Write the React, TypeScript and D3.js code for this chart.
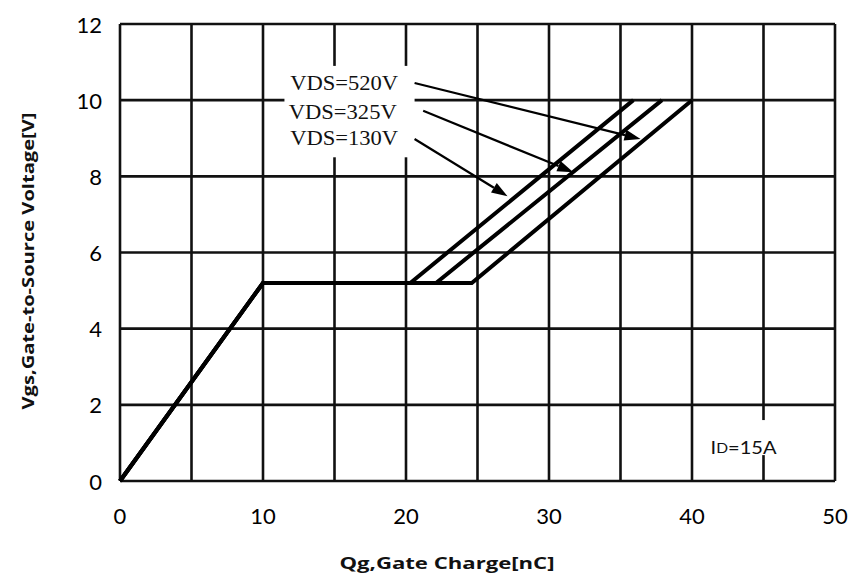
import React from "react";
import * as d3 from "d3";

// ---- data ----
const qTicks = [0, 10, 20, 30, 40, 50];
const vTicks = [0, 2, 4, 6, 8, 10, 12];
const qGrid = [0, 5, 10, 15, 20, 25, 30, 35, 40, 45, 50];
const vGrid = [0, 2, 4, 6, 8, 10, 12];

const qg130 = [0, 10, 20.3, 35.9];
const vgs130 = [0, 5.2, 5.2, 10];
const qg325 = [0, 10, 22.1, 37.9];
const vgs325 = [0, 5.2, 5.2, 10];
const qg520 = [0, 10, 24.6, 40.0];
const vgs520 = [0, 5.2, 5.2, 10];

const labelTexts = ["VDS=520V", "VDS=325V", "VDS=130V"];
const labelQ = [11.9, 11.8, 11.9];
const labelV = [10.45, 9.69, 9.0];
const arrowFromQ = [20.6, 21.2, 20.6];
const arrowFromV = [10.45, 9.72, 8.98];
const arrowToQ = [36.4, 31.7, 27.1];
const arrowToV = [8.98, 8.11, 7.48];
const labelBoxQ = [11.5, 20.6];
const labelBoxV = [8.5, 10.9];

const idText = "=15A";
const idQ = 41.3;
const idV = 0.89;
const idBoxQ = [41.1, 46.6];
const idBoxV = [0.68, 1.6];

const xTitle = "Qg,Gate Charge[nC]";
const yTitle = "Vgs,Gate-to-Source Voltage[V]";

const W = 866;
const H = 582;

export default function App() {
  const x = d3.scaleLinear().domain([0, 50]).range([120, 835]);
  const y = d3.scaleLinear().domain([0, 12]).range([481, 24]);

  const line = d3
    .line<[number, number]>()
    .x((d) => x(d[0]))
    .y((d) => y(d[1]));

  const series = [
    { q: qg130, v: vgs130 },
    { q: qg325, v: vgs325 },
    { q: qg520, v: vgs520 },
  ];

  const arrows = labelTexts.map((_, i) => {
    const x1 = x(arrowFromQ[i]);
    const y1 = y(arrowFromV[i]);
    const x2 = x(arrowToQ[i]);
    const y2 = y(arrowToV[i]);
    const ang = Math.atan2(y2 - y1, x2 - x1);
    const L = 16;
    const hw = 5.5;
    const bx = x2 - L * Math.cos(ang);
    const by = y2 - L * Math.sin(ang);
    const px = -Math.sin(ang) * hw;
    const py = Math.cos(ang) * hw;
    return {
      x1,
      y1,
      bx,
      by,
      head: `M${x2},${y2}L${bx + px},${by + py}L${bx - px},${by - py}Z`,
    };
  });

  const font = "Lato, 'Open Sans', sans-serif";

  return (
    <svg
      width={W}
      height={H}
      style={{ position: "absolute", left: 0, top: 0, background: "#fff" }}
    >
      <rect x={0} y={0} width={W} height={H} fill="#fff" />
      {/* grid */}
      <g stroke="#111" strokeWidth={2.6}>
        {qGrid.map((q) => (
          <line key={"vg" + q} x1={x(q)} x2={x(q)} y1={y(0)} y2={y(12)} />
        ))}
        {vGrid.map((v) => (
          <line key={"hg" + v} x1={x(0)} x2={x(50)} y1={y(v)} y2={y(v)} />
        ))}
      </g>
      {/* white boxes behind annotations */}
      <rect
        x={x(labelBoxQ[0])}
        y={y(labelBoxV[1])}
        width={x(labelBoxQ[1]) - x(labelBoxQ[0])}
        height={y(labelBoxV[0]) - y(labelBoxV[1])}
        fill="#fff"
      />
      <rect
        x={x(idBoxQ[0])}
        y={y(idBoxV[1])}
        width={x(idBoxQ[1]) - x(idBoxQ[0])}
        height={y(idBoxV[0]) - y(idBoxV[1])}
        fill="#fff"
      />
      {/* curves */}
      {series.map((s, i) => (
        <path
          key={"s" + i}
          d={line(s.q.map((q, j) => [q, s.v[j]] as [number, number])) || ""}
          fill="none"
          stroke="#000"
          strokeWidth={4}
          strokeLinejoin="miter"
        />
      ))}
      {/* annotations */}
      {labelTexts.map((t, i) => (
        <text
          key={"lt" + i}
          x={x(labelQ[i])}
          y={y(labelV[i])}
          dominantBaseline="central"
          fontFamily="'Liberation Serif', 'DejaVu Serif', serif"
          fontSize={21}
          textLength={108}
          lengthAdjust="spacingAndGlyphs"
          fill="#111"
        >
          {t}
        </text>
      ))}
      {arrows.map((a, i) => (
        <g key={"ar" + i}>
          <line x1={a.x1} y1={a.y1} x2={a.bx} y2={a.by} stroke="#000" strokeWidth={2.2} />
          <path d={a.head} fill="#000" />
        </g>
      ))}
      <text
        x={x(idQ)}
        y={y(idV)}
        dominantBaseline="central"
        fontFamily={font}
        fontSize={18}
        textLength={66}
        lengthAdjust="spacingAndGlyphs"
        fill="#111"
      >
        I<tspan fontSize={14}>D</tspan>
        {idText}
      </text>
      {/* ticks */}
      {vTicks.map((v) => (
        <text
          key={"yt" + v}
          x={102}
          y={y(v)}
          textAnchor="end"
          dominantBaseline="central"
          fontFamily={font}
          fontSize={22}
          fill="#000"
        >
          {v}
        </text>
      ))}
      {qTicks.map((q) => (
        <text
          key={"xt" + q}
          x={x(q)}
          y={515}
          textAnchor="middle"
          dominantBaseline="central"
          fontFamily={font}
          fontSize={22}
          fill="#000"
        >
          {q}
        </text>
      ))}
      {/* titles */}
      <text
        x={447}
        y={563}
        textAnchor="middle"
        dominantBaseline="central"
        fontFamily="'Open Sans', sans-serif"
        fontWeight={700}
        fontSize={16}
        textLength={215}
        lengthAdjust="spacingAndGlyphs"
        fill="#111"
      >
        {xTitle}
      </text>
      <text
        transform={`translate(27,261) rotate(-90)`}
        textAnchor="middle"
        dominantBaseline="central"
        fontFamily="'Open Sans', sans-serif"
        fontWeight={700}
        fontSize={16.5}
        textLength={297}
        lengthAdjust="spacingAndGlyphs"
        fill="#111"
      >
        {yTitle}
      </text>
    </svg>
  );
}
